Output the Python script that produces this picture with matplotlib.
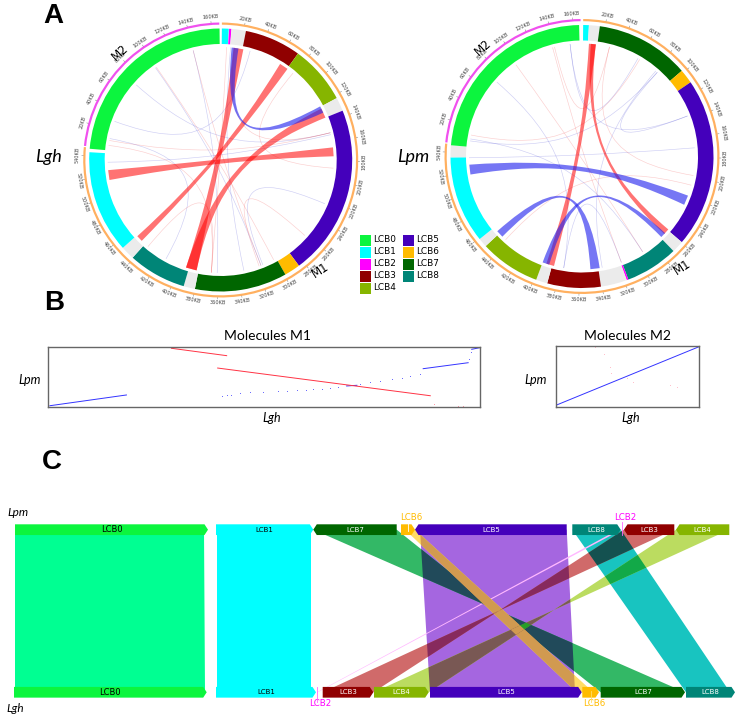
import numpy as np
import matplotlib
matplotlib.use('Agg')
import matplotlib.pyplot as plt
from matplotlib.patches import Wedge, PathPatch, Rectangle, Polygon
from matplotlib.path import Path
from matplotlib.colors import to_rgb

blockNames = ['LCB0', 'LCB1', 'LCB2', 'LCB3', 'LCB4', 'LCB5', 'LCB6', 'LCB7', 'LCB8']
blockColors = ['#0cf53e', '#00ffff', '#ff00ff', '#900000', '#86b500', '#4400bb', '#ffbb00', '#006600', '#008577']
gapColor = '#ebebeb'
linkColors = {'LCB0': '#00ff92', 'LCB1': '#00ffff', 'LCB2': '#ffb8ff', 'LCB3': '#d06a6a', 'LCB4': '#bbdc60',
	'LCB5': '#a566e0', 'LCB6': '#ffdc66', 'LCB7': '#33b866', 'LCB8': '#18c4c0'}

########### circular plots: blocks in KB along M1 then M2 #############
totalKb = 715
m1Length = 547
m1Ticks = list(range(20, 541, 20))
m2Ticks = list(range(20, 161, 20))

lghBlocks = [('LCB1', 1, 7), ('LCB2', 7.3, 9.3), ('gap', 9.5, 22), ('LCB3', 22, 71.5), ('LCB4', 71.5, 123),
	('gap', 123, 135), ('LCB5', 135, 285), ('LCB6', 285, 299), ('LCB7', 299, 380), ('gap', 380, 390),
	('LCB8', 390, 441), ('gap', 441, 453), ('LCB1', 453, 543), ('LCB0', 546, 714)]
lpmBlocks = [('LCB1', 1, 6), ('gap', 6, 15.5), ('LCB7', 15.5, 98), ('LCB6', 98, 110.5), ('LCB5', 110.5, 259.5),
	('gap', 259.5, 270), ('LCB8', 270, 316.5), ('LCB2', 316.5, 318), ('gap', 318, 341), ('LCB3', 341, 388),
	('gap', 388, 398), ('LCB4', 398, 451), ('gap', 451, 459), ('LCB1', 459, 535.5), ('gap', 535.5, 546), ('LCB0', 546, 712.5)]

# ribbons: (start1, end1, start2, end2, colour)
lghRibbons = [(166, 175, 516, 526, 'r'), (63, 72, 445.5, 452, 'r'), (13, 23, 382, 393, 'r'),
	(125, 135, 382, 393, 'r'), (11, 18, 122.5, 129.5, 'b')]
lpmRibbons = [(7, 14, 386, 394, 'r'), (9, 14, 258.6, 264.7, 'r'), (518, 528, 219, 229, 'b'),
	(446.5, 454, 339.6, 349, 'b'), (391, 398, 263.5, 269, 'b')]

# faint links: (pos1, pos2, colour)
lghThin = [(687, 316, 'r'), (687, 361, 'b'), (645, 316, 'b'), (646, 302, 'r'), (619, 151, 'b'), (556, 151, 'r'),
	(558, 415, 'b'), (551, 367, 'r'), (534, 153, 'b'), (437, 367, 'r'), (79, 187, 'r'), (224, 314, 'b'),
	(262, 318, 'r'), (6, 367, 'r'), (10, 334, 'b'), (14, 151, 'r'), (30, 576, 'b')]
lpmThin = [(685, 317, 'r'), (703, 137, 'b'), (644, 293, 'r'), (618, 376, 'b'), (28, 687, 'r'), (442, 208, 'r'),
	(558, 61, 'r'), (554, 293, 'b'), (552, 83, 'b'), (535, 170, 'b'), (81, 337, 'b'), (198, 28, 'r'),
	(137, 83, 'b'), (376, 317, 'b'), (59, 703, 'b')]

########### dot plots (Lgh KB, Lpm KB) #############
m1Blue1X = [2, 99]
m1Blue1Y = [9, 108]
m1Blue2X = [378, 391]
m1Blue2Y = [191, 197]
m1Blue3X = [475, 532]
m1Blue3Y = [350, 405]
m1Blue4X = [536.5, 547]
m1Blue4Y = [528.6, 544]
m1Red1X = [156, 226]
m1Red1Y = [538, 470]
m1Red2X = [214.6, 484]
m1Red2Y = [356, 101]
m1DotsX = [220, 226, 231, 243, 256, 272, 291, 303, 315, 326, 336, 347, 357, 367, 395, 408, 420, 435, 448, 458, 471, 533, 535]
m1DotsY = [101, 106, 112, 123, 132, 138, 142, 146, 151, 156, 160, 165, 169, 180, 209, 224, 237, 252, 267, 283, 301, 440, 500]
m1PinkX = [489, 519, 525]
m1PinkY = [22, 9, 9]
m2BlueX = [0, 168]
m2BlueY = [4, 166]
m2PinkX = [46, 56, 63, 65, 83, 91, 134, 142]
m2PinkY = [164, 146, 111, 92, 79, 69, 60, 54]

########### linear map: (name, start, stop, direction) #############
topTrack = [('LCB0', 0, 193, 1), ('LCB1', 201, 298.3, 1), ('LCB7', 298.3, 381.7, -1), ('LCB6', 386, 400, 1),
	('LCB5', 400, 551.7, -1), ('LCB8', 557.3, 605.7, 1), ('LCB3', 609, 659.3, -1), ('LCB4', 661, 714.3, -1)]
bottomTrack = [('LCB0', -1, 191.7, 1), ('LCB1', 201, 301, 1), ('LCB3', 307.7, 358.3, 1), ('LCB4', 359, 413.7, 1),
	('LCB5', 415, 566.7, 1), ('LCB6', 567.3, 584, 1), ('LCB7', 585.7, 670, 1), ('LCB8', 671, 720, 1)]
# links: (name, top start, top stop, bottom at start, bottom at stop), inverted blocks run backwards
links = [('LCB0', 0, 189, 0, 190), ('LCB1', 202, 296, 202, 296), ('LCB5', 405, 551.7, 415, 560),
	('LCB7', 298.3, 381.7, 670, 585.7), ('LCB6', 390, 400, 561.7, 578.3), ('LCB8', 557.3, 605.7, 671, 715),
	('LCB3', 609, 659.3, 358.3, 307.7), ('LCB4', 661, 714.3, 413.7, 359), ('LCB2', 603.3, 606.7, 301.9, 302.7)]
lcb2Stems = [606.7, 302.3]
lcb6Stems = [392.5, 576]


def colorOf(name):
	return blockColors[blockNames.index(name)]


def point(cx, cy, r, kb):
	phi = np.deg2rad(kb * 360 / totalKb - 90)
	return cx + r * np.cos(phi), cy + r * np.sin(phi)


def pull(cx, cy, p, k=0.25):
	return cx + k * (p[0] - cx), cy + k * (p[1] - cy)


def ribbon(ax, cx, cy, a1, a2, b1, b2, color, alpha):
	r = 113
	verts = []
	codes = []
	p0 = point(cx, cy, r, a1)
	verts.append(p0)
	codes.append(Path.MOVETO)
	for s, e in ((a1, b2), (b1, a2)):
		ps = point(cx, cy, r, s)
		pe = point(cx, cy, r, e)
		if s != a1:
			verts.append(ps)
			codes.append(Path.LINETO)
		verts += [pull(cx, cy, ps), pull(cx, cy, pe), pe]
		codes += [Path.CURVE4] * 3
	verts.append(p0)
	codes.append(Path.CLOSEPOLY)
	ax.add_patch(PathPatch(Path(verts, codes), fc=color, ec='none', alpha=alpha, zorder=3))


def thinLink(ax, cx, cy, a, b, color):
	r = 113
	ps = point(cx, cy, r, a)
	pe = point(cx, cy, r, b)
	verts = [ps, pull(cx, cy, ps), pull(cx, cy, pe), pe]
	codes = [Path.MOVETO, Path.CURVE4, Path.CURVE4, Path.CURVE4]
	ax.add_patch(PathPatch(Path(verts, codes), fc='none', ec=color, lw=0.45, alpha=0.22, zorder=2))


def circos(ax, cx, cy, blocks, ribbons, thin):
	for name, start, stop in blocks:
		color = gapColor if name == 'gap' else colorOf(name)
		ax.add_patch(Wedge((cx, cy), 131.5, start * 360 / totalKb - 90, stop * 360 / totalKb - 90, width=15.5, fc=color, ec='none', zorder=1))
	# molecule rings
	ax.add_patch(Wedge((cx, cy), 137.5, 0.5 - 90, m1Length * 360 / totalKb - 90, width=2.2, fc='#ffb060', ec='none'))
	ax.add_patch(Wedge((cx, cy), 137.5, (m1Length + 1) * 360 / totalKb - 90, 359.4 - 90, width=2.2, fc='#f050ee', ec='none'))
	for t in m1Ticks + [m1Length + t for t in m2Ticks]:
		deg = t * 360 / totalKb
		x1, y1 = point(cx, cy, 137.5, t)
		x2, y2 = point(cx, cy, 139, t)
		ax.plot([x1, x2], [y1, y2], color='#666666', lw=0.3)
		x, y = point(cx, cy, 143, t)
		rot = 180 - deg if 90 < deg < 270 else -deg
		label = t if t < m1Length else t - m1Length
		ax.text(x, y, f'{label}KB', fontsize=3.6, color='#444444', rotation=rot, rotation_mode='anchor', ha='center', va='center')
	for a1, a2, b1, b2, c in ribbons:
		ribbon(ax, cx, cy, a1, a2, b1, b2, '#ff0000' if c == 'r' else '#2222ee', 0.55 if c == 'r' else 0.62)
	for a, b, c in thin:
		thinLink(ax, cx, cy, a, b, '#ee2222' if c == 'r' else '#2222cc')


def arrow(ax, name, start, stop, direction, yc):
	h = 0.033
	tip = 3.5
	if direction > 0:
		xs = [start, stop - tip, stop, stop - tip, start]
		ys = [yc - h, yc - h, yc, yc + h, yc + h]
	else:
		xs = [stop, start + tip, start, start + tip, stop]
		ys = [yc - h, yc - h, yc, yc + h, yc + h]
	ax.fill(xs, ys, color=colorOf(name), lw=0, zorder=4)
	textColor = 'black' if name in ('LCB0', 'LCB1') else 'white'
	size = 6 if name == 'LCB0' else 5
	if name not in ('LCB6', 'LCB2'):
		ax.text((start + stop) / 2, yc, name, color=textColor, fontsize=size, ha='center', va='center', zorder=5)


def linkPolygon(link):
	name, a, b, c, d = link
	return [(a, 1), (b, 1), (d, 0), (c, 0)]


plt.rcParams['font.family'] = ['DejaVu Sans']
figure1 = plt.figure(figsize=(7.39, 7.19), dpi=100)

ax = figure1.add_axes([0, 0, 1, 1])
ax.set_xlim(0, 739)
ax.set_ylim(719, 0)
ax.axis('off')

circos(ax, 220.7, 160, lghBlocks, lghRibbons, lghThin)
circos(ax, 582, 156.5, lpmBlocks, lpmRibbons, lpmThin)

ax.text(48, 157, 'Lgh', family='Lato', style='italic', fontsize=13, ha='center', va='center')
ax.text(413, 157, 'Lpm', family='Lato', style='italic', fontsize=13, ha='center', va='center')
for x, y, s, rot in [(120, 53, 'M2', 42), (483, 48, 'M2', 42), (320, 270, 'M1', 33), (682, 267, 'M1', 33)]:
	ax.text(x, y, s, fontsize=8.5, rotation=rot, ha='center', va='center', zorder=6)

# legend
for i, name in enumerate(blockNames):
	col = 0 if i < 5 else 1
	row = i if i < 5 else i - 5
	x = 360 + col * 43
	y = 235 + row * 12
	ax.add_patch(Rectangle((x, y), 10.5, 10.5, fc=colorOf(name), ec='none'))
	ax.text(x + 13, y + 5, name, fontsize=6.4, ha='left', va='center')

for x, y, s in [(53.5, 16, 'A'), (54, 302.5, 'B'), (52, 462, 'C')]:
	ax.text(x, y, s, family='Liberation Sans', weight='bold', fontsize=20, ha='center', va='center')

# dot plots
axM1 = figure1.add_axes([48.3 / 739, 1 - 406.7 / 719, 431.7 / 739, 59.4 / 719])
axM1.set_xlim(0, 547)
axM1.set_ylim(0, 547)
axM1.plot(m1Blue1X, m1Blue1Y, color='#3333ff', lw=0.7)
axM1.plot(m1Blue2X, m1Blue2Y, color='#3333ff', lw=0.7)
axM1.plot(m1Blue3X, m1Blue3Y, color='#3333ff', lw=0.7)
axM1.plot(m1Blue4X, m1Blue4Y, color='#3333ff', lw=0.7)
axM1.plot(m1Red1X, m1Red1Y, color='#ff3344', lw=0.7)
axM1.plot(m1Red2X, m1Red2Y, color='#ff3344', lw=0.7)
axM1.plot(m1DotsX, m1DotsY, '.', color='#5555ff', ms=1.3, mew=0)
axM1.plot(m1PinkX, m1PinkY, '.', color='#ff8899', ms=1.5, mew=0)

axM2 = figure1.add_axes([556 / 739, 1 - 406.7 / 719, 143 / 739, 60.7 / 719])
axM2.set_xlim(0, 168)
axM2.set_ylim(0, 168)
axM2.plot(m2BlueX, m2BlueY, color='#3333ff', lw=0.7)
axM2.plot(m2PinkX, m2PinkY, '.', color='#ff99aa', ms=1, mew=0)

for axis, title, titleX, labelX in [(axM1, 'Molecules M1', 267.3, 271.7), (axM2, 'Molecules M2', 628, 631)]:
	axis.set_xticks([])
	axis.set_yticks([])
	for spine in axis.spines.values():
		spine.set_color('#666666')
		spine.set_linewidth(1)
	ax.text(titleX, 335.5, title, family='Lato', fontsize=10, ha='center', va='center')
	ax.text(labelX, 418.3, 'Lgh', family='Lato', style='italic', fontsize=9, ha='center', va='center')
ax.text(30, 380, 'Lpm', family='Lato', style='italic', fontsize=9, ha='center', va='center')
ax.text(536, 380, 'Lpm', family='Lato', style='italic', fontsize=9, ha='center', va='center')

# linear map
axC = figure1.add_axes([0, 1 - 710 / 719, 1, 200 / 719])
axC.set_xlim(-15, 724)
axC.set_ylim(-0.109, 1.121)
axC.axis('off')
for link in links:
	axC.add_patch(Polygon(linkPolygon(link), fc=linkColors[link[0]], ec='none', zorder=2))
# overlaps of two bands are multiplied, as the bands look in the original
bands = [link for link in links if link[0] not in ('LCB0', 'LCB1', 'LCB2')]
for i, first in enumerate(bands):
	for second in bands[i + 1:]:
		rgb = np.array(to_rgb(linkColors[first[0]])) * np.array(to_rgb(linkColors[second[0]]))
		if 'LCB6' in (first[0], second[0]):
			rgb = '#d19a50'
		clip = Polygon(linkPolygon(second), transform=axC.transData)
		overlap = Polygon(linkPolygon(first), fc=rgb, ec='none', zorder=3)
		axC.add_patch(overlap)
		overlap.set_clip_path(clip)
for name, start, stop, direction in topTrack:
	arrow(axC, name, start, stop, direction, 1)
for name, start, stop, direction in bottomTrack:
	arrow(axC, name, start, stop, direction, 0)
axC.plot([lcb2Stems[0], lcb2Stems[0]], [0.97, 1.05], color='#ff66ff', lw=0.6, zorder=5)
axC.plot([lcb2Stems[1], lcb2Stems[1]], [-0.06, 0.03], color='#ff66ff', lw=0.6, zorder=5)
axC.plot([lcb6Stems[0], lcb6Stems[0]], [0.99, 1.05], color='white', lw=0.6, zorder=5)
axC.plot([lcb6Stems[1], lcb6Stems[1]], [-0.06, 0.01], color='#ffdd66', lw=0.6, zorder=5)

ax.text(17.5, 512.5, 'Lpm', family='Lato', style='italic', fontsize=8.5, ha='center', va='center')
ax.text(15, 708, 'Lgh', family='Lato', style='italic', fontsize=8.5, ha='center', va='center')
for x, y, s, color in [(411, 517.7, 'LCB6', '#ffbb00'), (594, 703, 'LCB6', '#ffbb00'), (625.7, 517.7, 'LCB2', '#ff00ff'), (320.7, 703, 'LCB2', '#ff00ff')]:
	ax.text(x, y, s, color=color, fontsize=6.2, ha='center', va='center', zorder=6)

figure1.savefig('out.png', dpi=100)
